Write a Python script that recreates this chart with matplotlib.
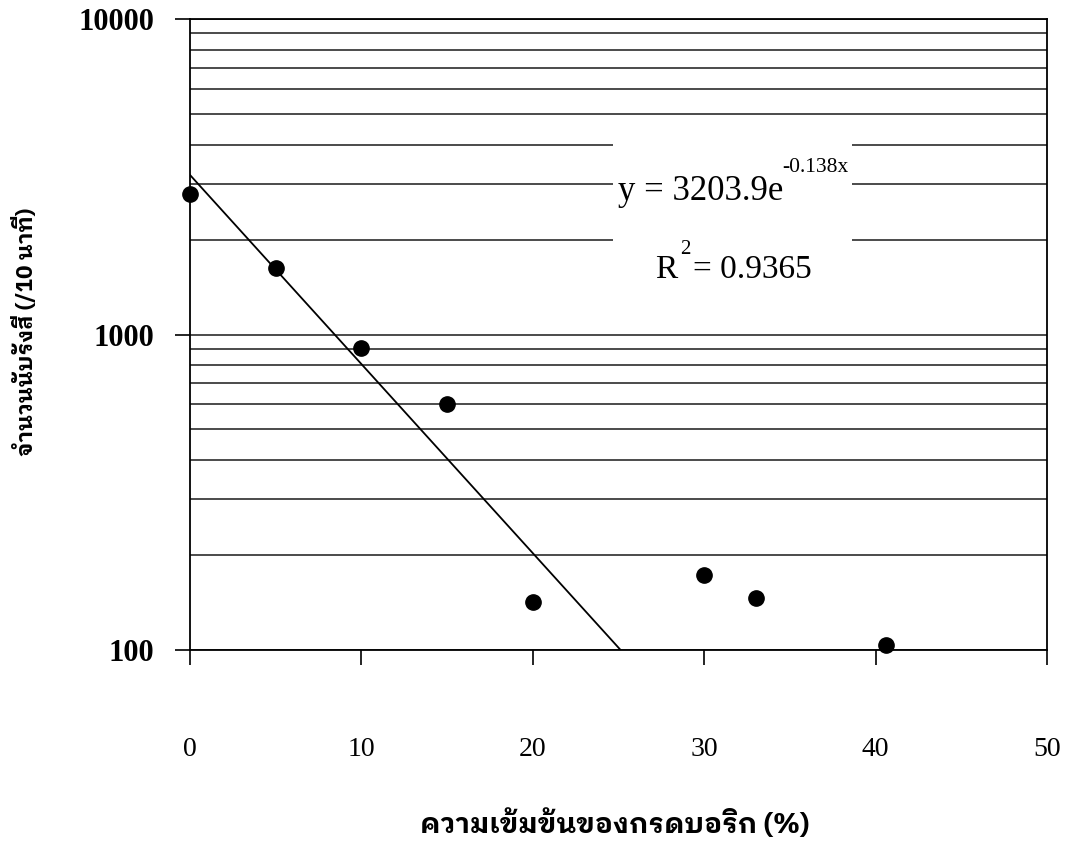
#!/usr/bin/env python3

import numpy as np
import matplotlib
matplotlib.use('agg')
import matplotlib.pyplot as plt
from matplotlib.ticker import FixedLocator, LogLocator, NullFormatter
from matplotlib.patches import Rectangle

# acid concentration (%) vs counts per 10 min
conc = [0, 5, 10, 15, 20, 30, 33, 40.6]
counts = [2780, 1630, 905, 600, 142, 173, 146, 104]

# exponential trend line given on the chart
a_coef = 3203.9
b_coef = -0.138
r2 = 0.9365

xticks = [0, 10, 20, 30, 40, 50]
yticks = [100, 1000, 10000]

xlabel = 'ความเข้มข้นของกรดบอริก (%)'
ylabel = 'จำนวนนับรังสี (/10 นาที)'

serif = 'Liberation Serif'
thai = ['IBM Plex Sans Thai Looped', 'FreeSerif', 'DejaVu Sans']

fig = plt.figure(figsize=(10.69, 8.51), dpi=100, facecolor='w')
ax = fig.add_axes([190/1069, 1 - 650/851, 857/1069, 631/851])

ax.set_yscale('log')
ax.set_xlim(0, 50)
ax.set_ylim(100, 10000)

# horizontal grid at every major and minor position
ax.yaxis.set_minor_locator(LogLocator(base=10, subs=np.arange(2, 10)))
ax.yaxis.set_minor_formatter(NullFormatter())
ax.grid(which='both', axis='y', color='#1a1a1a', linewidth=1.1)
ax.grid(False, axis='x')
ax.set_axisbelow(True)

# trend line down to the bottom of the axis
x_end = np.log(100 / a_coef) / b_coef
xt = np.linspace(0, x_end, 100)
ax.plot(xt, a_coef * np.exp(b_coef * xt), color='black', linewidth=1.3, zorder=3)

ax.plot(conc, counts, 'o', color='black', markersize=11, zorder=4, clip_on=False)

# white patch behind the equation, like in the original
ax.add_patch(Rectangle((0.4936, 0.535), 0.279, 0.30, transform=ax.transAxes,
                       facecolor='white', edgecolor='none', zorder=2))

ax.text(0.4994, 0.7132, 'y = %.1fe' % a_coef, transform=ax.transAxes,
        fontfamily=serif, fontsize=25, va='baseline', zorder=5)
ax.text(0.6908, 0.757, '%.3fx' % b_coef, transform=ax.transAxes,
        fontfamily=serif, fontsize=15.5, va='baseline', zorder=5)
ax.text(0.5426, 0.5895, 'R', transform=ax.transAxes,
        fontfamily=serif, fontsize=24, va='baseline', zorder=5)
ax.text(0.5718, 0.628, '2', transform=ax.transAxes,
        fontfamily=serif, fontsize=15, va='baseline', zorder=5)
ax.text(0.587, 0.5895, '= %.4f' % r2, transform=ax.transAxes,
        fontfamily=serif, fontsize=24, va='baseline', zorder=5)

ax.xaxis.set_major_locator(FixedLocator(xticks))
ax.set_xticklabels([str(t) for t in xticks], fontfamily=serif, fontsize=20)
ax.yaxis.set_major_locator(FixedLocator(yticks))
ax.set_yticklabels([str(t) for t in yticks], fontfamily=serif, fontsize=22,
                   fontweight='bold')

ax.tick_params(axis='x', which='major', direction='out', length=11, width=1.2,
               pad=52, colors='black')
ax.tick_params(axis='y', which='major', direction='out', length=11, width=1.2,
               pad=15, colors='black')
ax.tick_params(axis='y', which='minor', length=0)

for side in ['left', 'bottom', 'right', 'top']:
    ax.spines[side].set_linewidth(1.3)
    ax.spines[side].set_color('black')

fig.text(615/1069, 1 - 824/851, xlabel, family=thai, fontsize=20,
         fontweight='bold', ha='center', va='center')
fig.text(25/1069, 1 - 332/851, ylabel, family=thai, fontsize=16,
         fontweight='bold', rotation=90, ha='center', va='center')

fig.savefig('out.png', dpi=100, facecolor='w')
